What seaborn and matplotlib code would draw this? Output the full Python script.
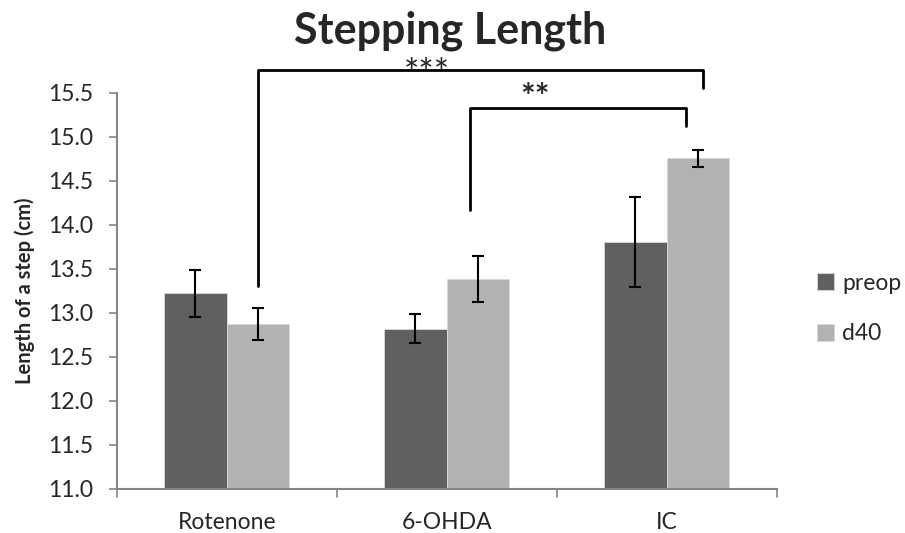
import matplotlib
matplotlib.use("Agg")
import matplotlib.pyplot as plt
import seaborn as sns
import pandas as pd
import numpy as np

categories = ["Rotenone", "6-OHDA", "IC"]
series = ["preop", "d40"]
preop_mean = [13.22, 12.82, 13.80]
preop_err = [0.27, 0.16, 0.51]
d40_mean = [12.87, 13.38, 14.755]
d40_err = [0.18, 0.26, 0.095]
y_ticks = [11.0, 11.5, 12.0, 12.5, 13.0, 13.5, 14.0, 14.5, 15.0, 15.5]

sns.set_theme(style="white")
plt.rcParams["font.family"] = ["Lato", "DejaVu Sans"]

df = pd.DataFrame({
    "group": categories * 2,
    "series": [series[0]] * 3 + [series[1]] * 3,
    "value": preop_mean + d40_mean,
    "err": preop_err + d40_err,
})

fig = plt.figure(figsize=(9.05, 5.33), dpi=100)
ax = fig.add_axes([116.7 / 905, 1 - 488.7 / 533, 660 / 905, 396 / 533])

palette = {"preop": "#606060", "d40": "#b2b2b2"}
sns.barplot(data=df, x="group", y="value", hue="series", order=categories,
            hue_order=series, palette=palette, width=0.57, gap=0,
            errorbar=None, ax=ax, saturation=1, edgecolor="#d9d9d9", linewidth=0.6)

# error bars at bar centres
for i, s in enumerate(series):
    sub = df[df.series == s].set_index("group").loc[categories]
    offs = (-0.1425 if i == 0 else 0.1425)
    xs = np.arange(len(categories)) + offs
    ax.errorbar(xs, sub["value"], yerr=sub["err"], fmt="none", ecolor="black",
                elinewidth=1.5, capsize=4.5, capthick=1.5, zorder=5)

ax.set_ylim(11.0, 15.5)
ax.set_xlim(-0.5, 2.5)
ax.set_yticks(y_ticks)
ax.set_yticklabels([f"{v:.1f}" for v in y_ticks], fontsize=16.5)
ax.set_xticks([0, 1, 2])
ax.set_xticklabels(categories, fontsize=16.5)
ax.tick_params(axis="x", length=0, pad=17)
ax.tick_params(axis="y", length=6, width=1.2, color="#868686", pad=11, left=True)
# boundary ticks on x axis
for xb in [-0.5, 0.5, 1.5, 2.5]:
    ax.plot([xb, xb], [0, -0.02], transform=ax.get_xaxis_transform(),
            color="#868686", lw=1.2, clip_on=False)
for sp in ["top", "right"]:
    ax.spines[sp].set_visible(False)
for sp in ["left", "bottom"]:
    ax.spines[sp].set_color("#868686")
    ax.spines[sp].set_linewidth(1.5)
ax.set_xlabel("")
ax.set_ylabel("Length of a step (cm)", fontsize=14.5, fontweight="bold", labelpad=9)

fig.text(450 / 905, 1 - 43 / 533, "Stepping Length", ha="center", va="baseline",
         fontsize=31, fontweight="bold")

# significance brackets
def bracket(x1, x2, y_top, y1, y2):
    ax.plot([x1, x1, x2, x2], [y1, y_top, y_top, y2], color="black", lw=2,
            clip_on=False, solid_joinstyle="round", zorder=6)

bracket(0.141, 2.165, 15.757, 13.30, 15.553)
bracket(1.106, 2.088, 15.326, 14.167, 15.12)
ax.text(0.91, 15.71, "***", ha="center", va="center", fontsize=26, clip_on=False)
ax.text(1.40, 15.44, "**", ha="center", va="center", fontsize=25,
        fontweight="bold", clip_on=False)

leg = ax.legend(loc="center left", bbox_to_anchor=(1.03, 0.455), frameon=False,
                fontsize=16.5, handlelength=0.75, handleheight=0.75,
                labelspacing=1.3, handletextpad=0.35)

fig.savefig("out.png", dpi=100)
